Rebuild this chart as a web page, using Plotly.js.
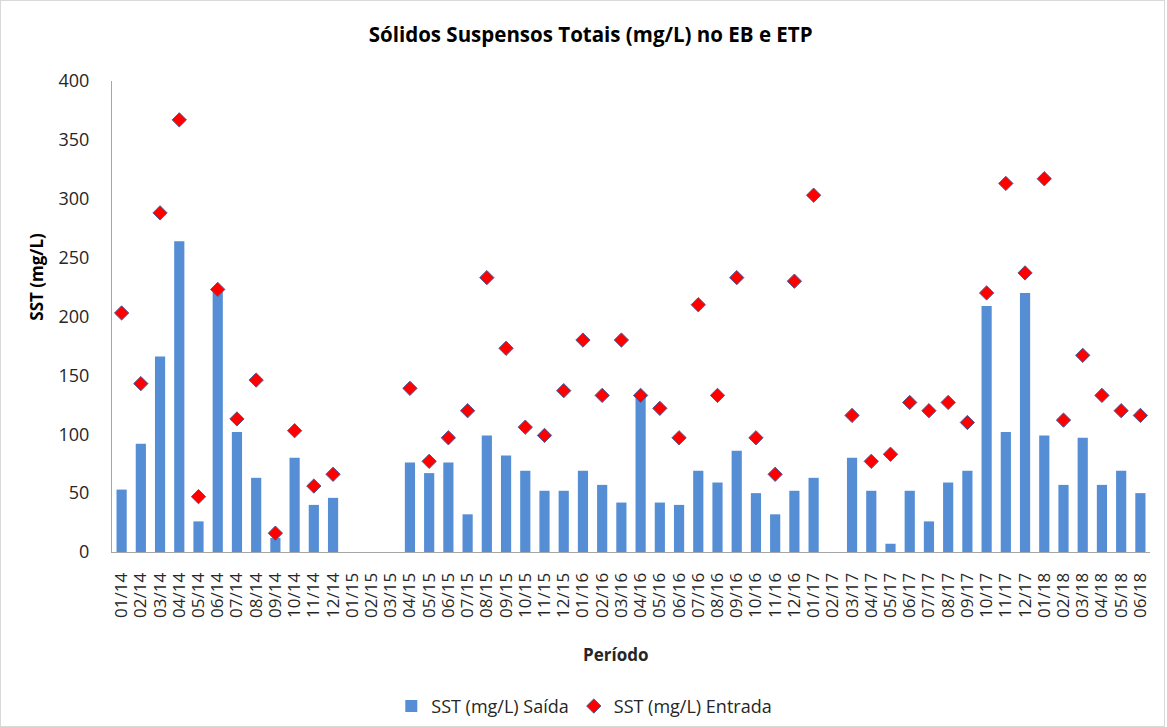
<!DOCTYPE html>
<html>
<head>
<meta charset="utf-8">
<script src="https://cdn.plot.ly/plotly-3.0.1.min.js"></script>
<style>
html,body{margin:0;padding:0;background:#fff;}
#chart{width:1163px;height:725px;border:1px solid #d9d9d9;}
</style>
</head>
<body>
<div id="chart"></div>
<script>
var periodos = ["01/14","02/14","03/14","04/14","05/14","06/14","07/14","08/14","09/14","10/14","11/14","12/14",
"01/15","02/15","03/15","04/15","05/15","06/15","07/15","08/15","09/15","10/15","11/15","12/15",
"01/16","02/16","03/16","04/16","05/16","06/16","07/16","08/16","09/16","10/16","11/16","12/16",
"01/17","02/17","03/17","04/17","05/17","06/17","07/17","08/17","09/17","10/17","11/17","12/17",
"01/18","02/18","03/18","04/18","05/18","06/18"];

var saida = [53,92,166,264,26,221,102,63,12,80,40,46,
null,null,null,76,67,76,32,99,82,69,52,52,
69,57,42,132,42,40,69,59,86,50,32,52,
63,null,80,52,7,52,26,59,69,209,102,220,
99,57,97,57,69,50];

var entrada = [203,143,288,367,47,223,113,146,16,103,56,66,
null,null,null,139,77,97,120,233,173,106,99,137,
180,133,180,133,122,97,210,133,233,97,66,230,
303,null,116,77,83,127,120,127,110,220,313,237,
317,112,167,133,120,116];

var fam = "'Open Sans', 'Noto Sans', sans-serif";

var traces = [
  {
    type: "bar",
    name: "SST (mg/L) Saída",
    x: periodos,
    y: saida,
    marker: {color: "#558ed5"},
    hoverinfo: "x+y"
  },
  {
    type: "scatter",
    mode: "markers",
    name: "SST (mg/L) Entrada",
    x: periodos,
    y: entrada,
    marker: {symbol: "diamond", color: "#ff0000", size: 11, line: {color: "#4a5a9a", width: 1}},
    hoverinfo: "x+y"
  }
];

var layout = {
  width: 1163,
  height: 725,
  margin: {l: 111, r: 14, t: 80, b: 174, autoexpand: false},
  paper_bgcolor: "#ffffff",
  plot_bgcolor: "#ffffff",
  font: {family: fam, size: 16, color: "#262626"},
  title: {text: "<b>Sólidos Suspensos Totais (mg/L) no EB e ETP</b>", x: 0.507, xanchor: "center", y: 0.954, yanchor: "middle", font: {family: fam, size: 20.5, color: "#000"}},
  bargap: 0.47,
  showlegend: true,
  legend: {orientation: "h", x: 0.455, xanchor: "center", y: -0.3277, yanchor: "middle", font: {family: fam, size: 18, color: "#262626"}, itemwidth: 30},
  xaxis: {
    type: "category",
    range: [-0.5, 53.5],
    tickmode: "array",
    tickvals: periodos,
    ticktext: periodos,
    tickangle: -90,
    showline: true,
    linecolor: "#a6a6a6",
    linewidth: 1,
    ticks: "",
    showgrid: false,
    tickfont: {family: fam, size: 17, color: "#262626"},
    ticklabelstandoff: 13,
    automargin: false
  },
  yaxis: {
    range: [0, 400],
    dtick: 50,
    showline: true,
    linecolor: "#a6a6a6",
    linewidth: 1,
    ticks: "",
    showgrid: false,
    zeroline: false,
    tickfont: {family: fam, size: 18, color: "#262626"},
    ticklabelstandoff: 18,
    automargin: false
  },
  annotations: [
    {text: "<b>SST (mg/L)</b>", xref: "paper", yref: "paper", x: -0.073, y: 0.585, xanchor: "center", yanchor: "middle", textangle: -90, showarrow: false, font: {family: fam, size: 17, color: "#000"}},
    {text: "<b>Período</b>", xref: "paper", yref: "paper", x: 0.4846, y: -0.217, xanchor: "center", yanchor: "middle", showarrow: false, font: {family: fam, size: 17, color: "#262626"}}
  ]
};

Plotly.newPlot("chart", traces, layout, {displayModeBar: false, staticPlot: true});
</script>
</body>
</html>
